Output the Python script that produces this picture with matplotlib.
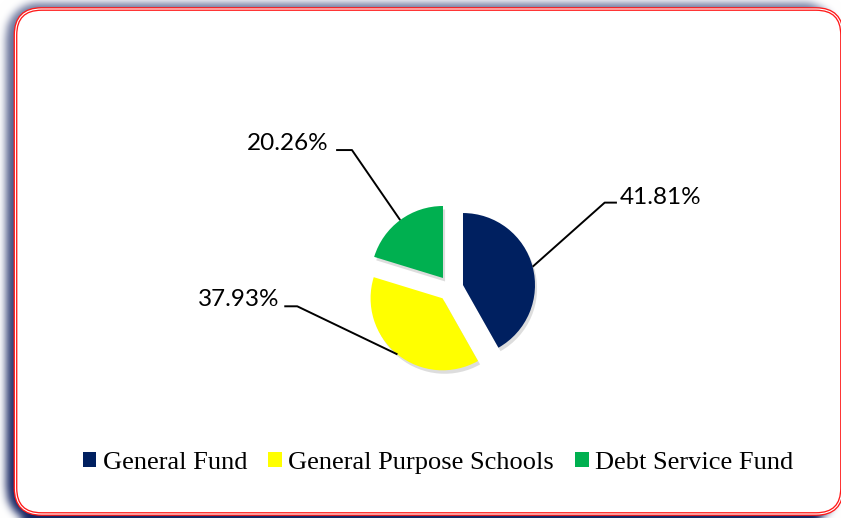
import numpy as np
import matplotlib
matplotlib.use("Agg")
import matplotlib.pyplot as plt
from matplotlib.patches import FancyBboxPatch, Patch
import matplotlib.patheffects as pe

# ---- data ----
categories = ["General Fund", "General Purpose Schools", "Debt Service Fund"]
values = [41.81, 37.93, 20.26]
colors = ["#002060", "#FFFF00", "#00B050"]
labels = ["41.81%", "37.93%", "20.26%"]

W, H = 841, 518
fig = plt.figure(figsize=(W / 100, H / 100), dpi=100)

# ---- background with soft shadow ----
def rr_mask(x0, y0, x1, y1, r):
    X, Y = np.meshgrid(np.arange(W) + 0.5, np.arange(H) + 0.5)
    dx = np.maximum(np.maximum(x0 + r - X, 0), X - (x1 - r))
    dy = np.maximum(np.maximum(y0 + r - Y, 0), Y - (y1 - r))
    return ((dx ** 2 + dy ** 2) <= r ** 2).astype(float)

def blur(a, s):
    k = np.arange(-3 * s, 3 * s + 1)
    g = np.exp(-k ** 2 / (2 * s ** 2)); g /= g.sum()
    pad = len(k)
    a = np.pad(a, pad, mode="edge")
    a = np.apply_along_axis(lambda r: np.convolve(r, g, mode="same"), 1, a)
    a = np.apply_along_axis(lambda c: np.convolve(c, g, mode="same"), 0, a)
    return a[pad:-pad, pad:-pad]

bx0, by0, bx1, by1, br = 15.5, 9.0, 842.0, 514.0, 26
sh = blur(rr_mask(bx0 - 9, by0 - 6, bx1 - 6, by1 + 8, br + 6), 4)
Y = np.arange(H)[:, None] / H
alpha = sh * (0.62 + 0.36 * Y)
sh_col = np.array([18, 34, 96]) / 255.0
img = np.ones((H, W, 3)) * (1 - alpha[..., None]) + sh_col[None, None, :] * alpha[..., None]

ax_bg = fig.add_axes([0, 0, 1, 1])
ax_bg.imshow(img, extent=(0, W, H, 0), aspect="auto", interpolation="bilinear")
ax_bg.set_xlim(0, W); ax_bg.set_ylim(H, 0)
ax_bg.axis("off")
box = FancyBboxPatch((bx0, by0), bx1 - bx0, by1 - by0,
                     boxstyle=f"round,pad=0,rounding_size={br}",
                     facecolor="white", edgecolor="#FF1A1A", linewidth=2.7)
ax_bg.add_patch(box)
box2 = FancyBboxPatch((bx0, by0), bx1 - bx0, by1 - by0,
                      boxstyle=f"round,pad=0,rounding_size={br}",
                      facecolor="none", edgecolor="white", linewidth=0.8)
ax_bg.add_patch(box2)

# ---- pie ----
cx, cy, rpx = 450.6, 288.3, 72.0
ax = fig.add_axes([0, 0, 1, 1])
ax.patch.set_alpha(0)
explode = 0.178
wedges, _ = ax.pie(values, colors=colors, startangle=90, counterclock=False,
                   explode=[explode] * 3, radius=1,
                   wedgeprops=dict(linewidth=0))
for w in wedges:
    w.set_path_effects([pe.SimplePatchShadow(offset=(1.5, -2.5), shadow_rgbFace="#909090", alpha=0.3),
                        pe.Normal()])
ax.set_xlim(-cx / rpx, (W - cx) / rpx)
ax.set_ylim(-(H - cy) / rpx, cy / rpx)
ax.set_aspect("auto")
ax.axis("off")

# leader-line layout (elbow x, end x, line y, text x, text y, alignment)
layout = [
    (2.14, 2.31, 1.19, 2.35, 1.17, "left"),
    (-2.13, -2.31, -0.25, -2.38, -0.25, "right"),
    (-1.37, -1.59, 1.92, -1.70, 1.92, "right"),
]
for w, lab, (ex, endx, ly, tx, ty, ha) in zip(wedges, labels, layout):
    th = np.deg2rad((w.theta1 + w.theta2) / 2)
    sx, sy = (1 + explode) * np.cos(th), (1 + explode) * np.sin(th)
    ax.plot([sx, ex, endx], [sy, ly, ly], color="black", lw=1.4,
            solid_capstyle="butt", zorder=3)
    ax.text(tx, ty, lab, ha=ha, va="baseline", fontsize=17.5,
            family="Lato", color="black")

# ---- legend ----
handles = [Patch(facecolor=c, edgecolor="none", label=l) for c, l in zip(colors, categories)]
fig.legend(handles=handles, loc="center", bbox_to_anchor=(438 / W, 1 - 463 / H),
           ncol=3, frameon=False, prop=dict(family="Liberation Serif", size=19),
           handlelength=0.51, handleheight=0.51, handletextpad=0.25,
           columnspacing=0.8, borderpad=0)

fig.savefig("out.png", dpi=100)
